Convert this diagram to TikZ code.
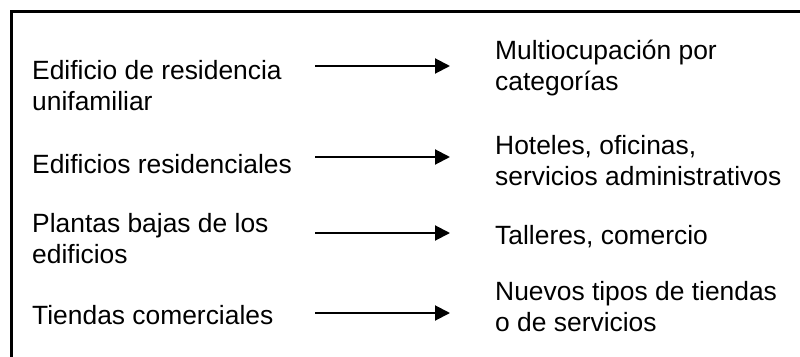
\documentclass[tikz,border=0pt]{standalone}
\usepackage{fontspec}
\setmainfont{Liberation Sans}
\usetikzlibrary{arrows.meta}
\begin{document}
\begin{tikzpicture}[
        x=1pt, y=-1pt,
        texto/.style={anchor=base west, inner sep=0pt, align=left,
                font=\fontsize{26.4}{30.4}\selectfont},
        flecha/.style={line width=2pt, -{Triangle[length=15pt,width=15pt]}}
    ]

    \clip (0,0) rectangle (800,356);
    \draw[line width=2.5pt] (11.5,11.5) rectangle (830,390);

    % usos antiguos (base = ultima linea)
    \node[texto] (ant1) at (32,110) {Edificio de residencia\\unifamiliar};
    \node[texto] (ant2) at (32,173) {Edificios residenciales};
    \node[texto] (ant3) at (32,263) {Plantas bajas de los\\edificios};
    \node[texto] (ant4) at (32,324) {Tiendas comerciales};

    % usos nuevos
    \node[texto] (nue1) at (495,90) {Multiocupación por\\categorías};
    \node[texto] (nue2) at (495,185) {Hoteles, oficinas,\\servicios administrativos};
    \node[texto] (nue3) at (495,244) {Talleres, comercio};
    \node[texto] (nue4) at (495,331) {Nuevos tipos de tiendas\\o de servicios};

    % flechas
    \coordinate (de1) at (315,66);   \coordinate (a1) at (450,66);
    \coordinate (de2) at (315,157);  \coordinate (a2) at (450,157);
    \coordinate (de3) at (315,233);  \coordinate (a3) at (450,233);
    \coordinate (de4) at (315,313);  \coordinate (a4) at (450,313);
    \draw[flecha] (de1) -- (a1);
    \draw[flecha] (de2) -- (a2);
    \draw[flecha] (de3) -- (a3);
    \draw[flecha] (de4) -- (a4);

\end{tikzpicture}
\end{document}
